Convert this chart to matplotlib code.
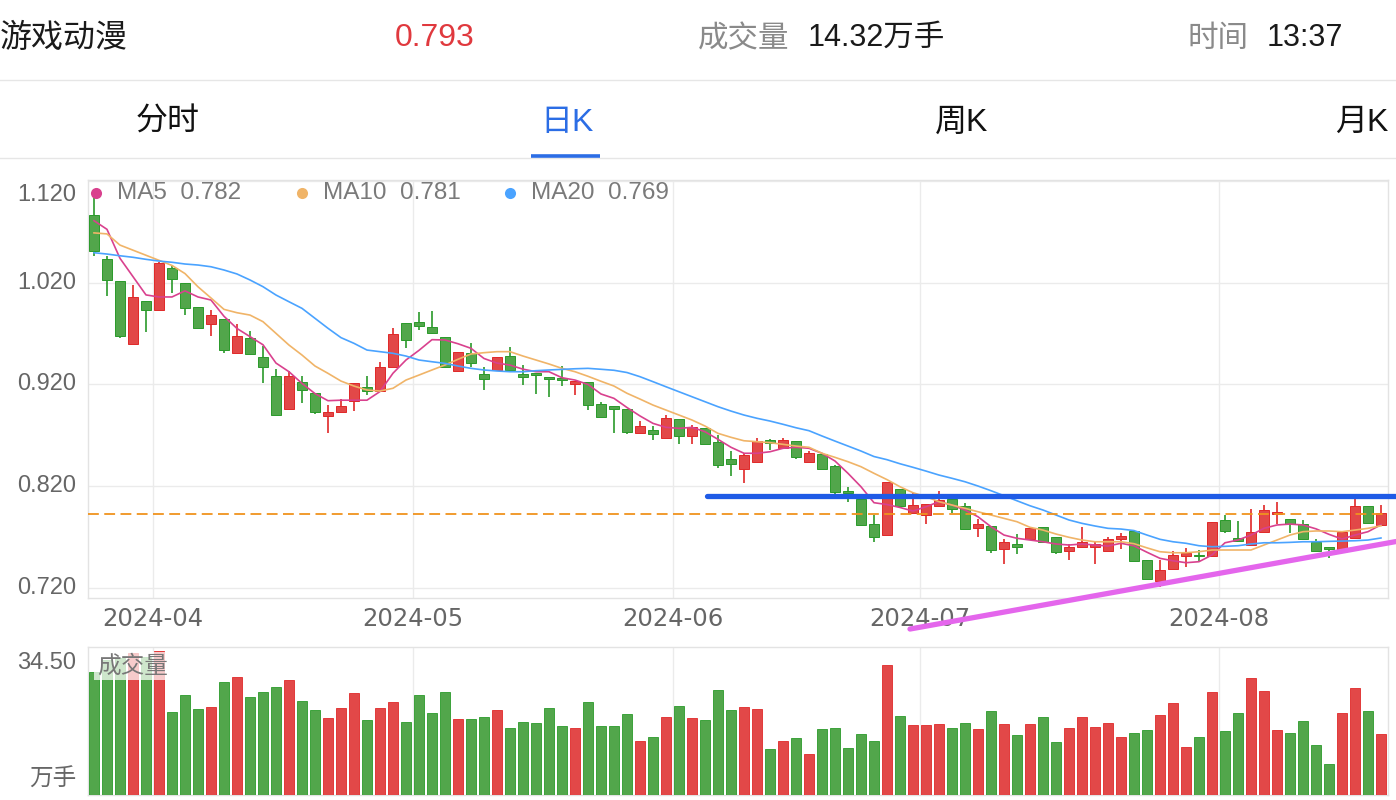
import matplotlib
matplotlib.use('Agg')
import numpy as np
import matplotlib.pyplot as plt
from matplotlib.transforms import blended_transform_factory

plt.rcParams['font.family'] = ['Liberation Sans', 'Noto Sans CJK SC']

# 日K数据 (2024-03-25 ~ 2024-08-19)
open_ = [1.087, 1.043, 1.022, 0.960, 1.002, 0.993, 1.034, 1.020, 0.996, 0.979,
         0.984, 0.951, 0.966, 0.947, 0.928, 0.896, 0.922, 0.912, 0.889, 0.893,
         0.904, 0.917, 0.914, 0.937, 0.980, 0.981, 0.976, 0.967, 0.933, 0.951,
         0.930, 0.934, 0.948, 0.930, 0.931, 0.927, 0.926, 0.920, 0.922, 0.901,
         0.899, 0.896, 0.872, 0.875, 0.867, 0.886, 0.869, 0.877, 0.863, 0.847,
         0.837, 0.844, 0.865, 0.857, 0.864, 0.844, 0.852, 0.840, 0.815, 0.807,
         0.783, 0.772, 0.817, 0.794, 0.792, 0.800, 0.807, 0.800, 0.779, 0.781,
         0.758, 0.763, 0.768, 0.780, 0.770, 0.756, 0.760, 0.760, 0.756, 0.768,
         0.776, 0.747, 0.727, 0.739, 0.751, 0.752, 0.751, 0.787, 0.769, 0.762,
         0.775, 0.793, 0.788, 0.783, 0.765, 0.760, 0.758, 0.769, 0.800, 0.782]
high = [1.108, 1.046, 1.022, 1.018, 1.002, 1.040, 1.037, 1.020, 0.996, 0.993,
        0.984, 0.979, 0.973, 0.958, 0.935, 0.933, 0.928, 0.912, 0.900, 0.906,
        0.921, 0.928, 0.942, 0.975, 0.980, 0.991, 0.992, 0.967, 0.952, 0.961,
        0.937, 0.947, 0.957, 0.939, 0.931, 0.927, 0.938, 0.923, 0.922, 0.903,
        0.899, 0.896, 0.884, 0.879, 0.890, 0.886, 0.880, 0.877, 0.870, 0.855,
        0.853, 0.867, 0.866, 0.867, 0.864, 0.855, 0.853, 0.841, 0.819, 0.807,
        0.792, 0.824, 0.817, 0.813, 0.802, 0.815, 0.807, 0.803, 0.788, 0.781,
        0.768, 0.773, 0.779, 0.780, 0.770, 0.763, 0.780, 0.765, 0.770, 0.774,
        0.776, 0.747, 0.747, 0.756, 0.759, 0.757, 0.785, 0.792, 0.786, 0.798,
        0.801, 0.804, 0.788, 0.787, 0.768, 0.760, 0.775, 0.807, 0.800, 0.801]
low = [1.046, 1.007, 0.966, 0.960, 0.972, 0.993, 1.010, 0.988, 0.975, 0.968,
       0.951, 0.951, 0.950, 0.921, 0.890, 0.896, 0.902, 0.891, 0.872, 0.893,
       0.894, 0.910, 0.914, 0.937, 0.956, 0.974, 0.970, 0.937, 0.933, 0.937,
       0.915, 0.934, 0.934, 0.919, 0.911, 0.908, 0.918, 0.910, 0.895, 0.888,
       0.872, 0.871, 0.872, 0.865, 0.867, 0.861, 0.861, 0.861, 0.838, 0.830,
       0.823, 0.844, 0.856, 0.857, 0.847, 0.844, 0.837, 0.812, 0.804, 0.782,
       0.765, 0.772, 0.800, 0.794, 0.783, 0.800, 0.794, 0.778, 0.770, 0.754,
       0.743, 0.753, 0.767, 0.765, 0.753, 0.747, 0.759, 0.743, 0.756, 0.758,
       0.746, 0.729, 0.721, 0.739, 0.740, 0.746, 0.751, 0.774, 0.766, 0.762,
       0.775, 0.783, 0.774, 0.768, 0.756, 0.749, 0.758, 0.769, 0.784, 0.782]
close = [1.051, 1.023, 0.968, 1.006, 0.993, 1.039, 1.024, 0.995, 0.975, 0.988,
         0.954, 0.968, 0.950, 0.937, 0.890, 0.928, 0.915, 0.893, 0.893, 0.899,
         0.921, 0.914, 0.937, 0.970, 0.964, 0.977, 0.971, 0.937, 0.952, 0.941,
         0.925, 0.947, 0.934, 0.927, 0.929, 0.925, 0.924, 0.923, 0.900, 0.888,
         0.896, 0.873, 0.879, 0.871, 0.887, 0.869, 0.878, 0.861, 0.841, 0.842,
         0.851, 0.864, 0.862, 0.865, 0.849, 0.853, 0.837, 0.814, 0.813, 0.782,
         0.770, 0.824, 0.800, 0.801, 0.802, 0.806, 0.798, 0.778, 0.783, 0.757,
         0.765, 0.760, 0.779, 0.765, 0.755, 0.760, 0.765, 0.763, 0.768, 0.771,
         0.746, 0.729, 0.738, 0.752, 0.754, 0.751, 0.785, 0.776, 0.766, 0.775,
         0.797, 0.794, 0.783, 0.768, 0.756, 0.758, 0.775, 0.800, 0.784, 0.794]

ma5 = [1.081, 1.0725, 1.044, 1.026, 1.008, 1.006, 1.006, 1.012, 1.006, 1.003,
       0.987, 0.975, 0.967, 0.959, 0.941, 0.9325, 0.921, 0.911, 0.904, 0.9045,
       0.9045, 0.9045, 0.913, 0.931, 0.944, 0.9535, 0.964, 0.9637, 0.960, 0.9555,
       0.9455, 0.941, 0.939, 0.935, 0.9325, 0.9325, 0.9266, 0.9243, 0.920, 0.9106,
       0.9063, 0.8973, 0.889, 0.8817, 0.8778, 0.8768, 0.8778, 0.8735, 0.866, 0.8582,
       0.8523, 0.8523, 0.8538, 0.8572, 0.8582, 0.8572, 0.8523, 0.8447, 0.8326, 0.8194,
       0.8037, 0.8019, 0.799, 0.7955, 0.7997, 0.8047, 0.8014, 0.7965, 0.7899, 0.7801,
       0.7719, 0.7687, 0.767, 0.7653, 0.7631, 0.7621, 0.7631, 0.7621, 0.7611, 0.7638,
       0.7613, 0.755, 0.749, 0.7466, 0.7447, 0.7457, 0.7523, 0.7643, 0.767, 0.7719,
       0.7785, 0.7818, 0.7827, 0.7818, 0.778, 0.7726, 0.768, 0.7719, 0.7752, 0.782]
ma10 = [1.069, 1.068, 1.057, 1.052, 1.047, 1.042, 1.037, 1.029, 1.016, 1.005,
        0.9938, 0.9905, 0.9882, 0.9817, 0.9702, 0.9587, 0.9489, 0.9381, 0.9309, 0.9233,
        0.9184, 0.9145, 0.9135, 0.9162, 0.9243, 0.9292, 0.9342, 0.9391, 0.9447, 0.9499,
        0.9512, 0.9522, 0.9522, 0.9479, 0.944, 0.9401, 0.9358, 0.9325, 0.928, 0.9231,
        0.9184, 0.9113, 0.9056, 0.8997, 0.8948, 0.8899, 0.885, 0.8791, 0.8719, 0.868,
        0.8646, 0.8637, 0.8627, 0.8611, 0.8594, 0.8582, 0.8523, 0.8483, 0.844, 0.8391,
        0.8326, 0.8264, 0.8194, 0.8135, 0.8096, 0.8047, 0.8014, 0.7982, 0.7948, 0.7916,
        0.7883, 0.785, 0.7795, 0.7768, 0.7729, 0.7697, 0.767, 0.7653, 0.7653, 0.7653,
        0.7634, 0.7593, 0.7555, 0.7545, 0.7545, 0.7555, 0.7572, 0.7572, 0.7572, 0.7572,
        0.7621, 0.767, 0.7719, 0.7752, 0.7759, 0.7759, 0.7752, 0.7768, 0.7785, 0.781]
ma20 = [1.0495, 1.0482, 1.0465, 1.045, 1.043, 1.0413, 1.0401, 1.0384, 1.0374, 1.0357,
        1.0325, 1.0286, 1.0227, 1.0161, 1.0079, 1.0013, 0.9948, 0.985, 0.9752, 0.966,
        0.9604, 0.9538, 0.9522, 0.9506, 0.9479, 0.944, 0.9423, 0.9407, 0.9381, 0.9358,
        0.9342, 0.9332, 0.9325, 0.9325, 0.9335, 0.9342, 0.9348, 0.9354, 0.9358, 0.9349,
        0.9339, 0.9317, 0.9276, 0.9227, 0.9177, 0.9128, 0.9079, 0.903, 0.8981, 0.8938,
        0.8899, 0.8867, 0.884, 0.8808, 0.8774, 0.8745, 0.8693, 0.8643, 0.8594, 0.8545,
        0.8491, 0.846, 0.842, 0.8385, 0.8348, 0.8309, 0.8277, 0.8243, 0.8201, 0.8155,
        0.8106, 0.8056, 0.8007, 0.7965, 0.7916, 0.7867, 0.7834, 0.7808, 0.7785, 0.7778,
        0.7763, 0.7719, 0.7677, 0.7653, 0.7638, 0.7614, 0.7604, 0.7608, 0.7614, 0.7631,
        0.7643, 0.7643, 0.7647, 0.7653, 0.7653, 0.7657, 0.766, 0.7663, 0.767, 0.769]

# 成交量 (万手)
volume = [28.7, 31.5, 31.9, 33.1, 32.2, 33.6, 19.4, 23.3, 20.0, 20.4,
          26.3, 27.4, 22.8, 24.1, 25.1, 26.8, 22.0, 19.8, 18.0, 20.2,
          23.7, 17.5, 20.2, 21.6, 17.0, 23.3, 19.2, 24.1, 17.7, 17.7,
          18.1, 19.7, 15.6, 17.0, 16.9, 20.2, 16.2, 15.6, 21.6, 16.0,
          16.0, 18.8, 12.6, 13.5, 18.1, 20.8, 18.0, 17.5, 24.4, 19.7,
          20.4, 20.0, 10.8, 12.6, 13.2, 9.6, 15.4, 15.6, 11.0, 14.2,
          12.7, 30.3, 18.4, 16.3, 16.3, 16.5, 15.6, 16.7, 15.3, 19.5,
          16.6, 14.0, 16.5, 18.1, 12.4, 15.7, 18.2, 15.8, 16.7, 13.5,
          14.5, 15.1, 18.6, 21.5, 11.3, 13.6, 24.0, 14.9, 19.1, 27.3,
          24.2, 15.2, 14.4, 17.3, 11.7, 7.2, 19.0, 25.0, 19.6, 14.32]

month_labels = ['2024-04', '2024-05', '2024-06', '2024-07', '2024-08']
month_first_idx = [5, 25, 45, 64, 87]   # 每月第一个交易日
price_ticks = [0.720, 0.820, 0.920, 1.020, 1.120]
vol_max = 34.50

last_price = 0.793
resistance = 0.810          # 蓝色水平线
support_start = (62.77, 0.6795)   # 紫色趋势线
support_end = (100.15, 0.7655)

RED, RED_EDGE = '#E24848', '#E02828'
GREEN, GREEN_EDGE = '#52A64B', '#2A9A2A'
GRID = '#EBEBEB'

W, H = 1396, 800
fig = plt.figure(figsize=(W / 100, H / 100), dpi=100)


def fx(px):
    return px / W


def fy(py):
    return 1 - py / H


# 顶部信息栏
fig.text(fx(0), fy(39), '游戏动漫', fontsize=23, color='#1A1A1A', va='center')
fig.text(fx(395), fy(38), '0.793', fontsize=23, color='#E0393E', va='center')
fig.text(fx(698), fy(39), '成交量', fontsize=22, color='#8A8A8A', va='center')
fig.text(fx(808), fy(38), '14.32万手', fontsize=22, color='#1A1A1A', va='center')
fig.text(fx(1187), fy(39), '时间', fontsize=22, color='#8A8A8A', va='center')
fig.text(fx(1267), fy(38), '13:37', fontsize=22, color='#1A1A1A', va='center')
fig.add_artist(plt.Line2D([0, 1], [fy(79.5), fy(79.5)], color='#E6E6E6', lw=1))

# 标签页
tabs = ['分时', '日K', '周K', '月K']
tab_x = [168, 567, 962, 1362]
for t, tx in zip(tabs, tab_x):
    fig.text(fx(tx), fy(123), t, fontsize=23, ha='center', va='center',
             color='#2B6DE5' if t == '日K' else '#111111')
fig.add_artist(plt.Line2D([0, 1], [fy(157.5), fy(157.5)], color='#E6E6E6', lw=1))
fig.add_artist(plt.Line2D([fx(531), fx(600)], [fy(155.5), fy(155.5)],
                          color='#2B6DE5', lw=2.6, solid_capstyle='butt'))

# K线主图
ax = fig.add_axes([fx(88), fy(598), fx(1388) - fx(88), fy(180) - fy(598)])
axv = fig.add_axes([fx(88), fy(795), fx(1388) - fx(88), fy(647) - fy(795)])

x = np.arange(len(close))
o = np.array(open_)
c = np.array(close)
hi = np.array(high)
lo = np.array(low)
up = c >= o
body_col = np.where(up, RED, GREEN)
edge_col = np.where(up, RED_EDGE, GREEN_EDGE)
grid_x = [m - 0.45 for m in month_first_idx]

for a in (ax, axv):
    a.set_xlim(-0.46, 99.54)
    for s in a.spines.values():
        s.set_color('#E3E3E3')
        s.set_linewidth(1)
    a.tick_params(length=0, labelbottom=False, labelleft=False)
    a.set_xticks(grid_x)
    a.grid(True, color=GRID, lw=1)
    a.set_axisbelow(True)

ax.set_ylim(0.710, 1.121)
ax.set_yticks(price_ticks)

ax.vlines(x, lo, hi, colors=edge_col, lw=1.2, zorder=3)
ax.bar(x, np.maximum(np.abs(c - o), 0.0016), bottom=np.minimum(o, c), width=0.74,
       color=body_col, edgecolor=edge_col, linewidth=0.7, zorder=4)

ax.plot(x, ma5, color='#D9418E', lw=1.2, zorder=5)
ax.plot(x, ma10, color='#F0B468', lw=1.2, zorder=5)
ax.plot(x, ma20, color='#4AA3FF', lw=1.2, zorder=5)

ax.axhline(last_price, color='#F0931E', lw=1.3, ls=(0, (6, 3)), zorder=6)
ax.plot([47.15, 100.15], [resistance, resistance], color='#1F5BE6', lw=3.8,
        solid_capstyle='round', clip_on=False, zorder=7)
ax.plot([support_start[0], support_end[0]], [support_start[1], support_end[1]],
        color='#E466EC', lw=3.8, solid_capstyle='round', clip_on=False, zorder=7)

# 坐标标签
ty = blended_transform_factory(ax.transAxes, ax.transData)
for p in price_ticks:
    yy = p - 0.0138 if p == price_ticks[-1] else p
    ax.text(-0.0092, yy, f'{p:.3f}', transform=ty, ha='right', va='center',
            fontsize=17, color='#666666')
tx_ = blended_transform_factory(ax.transData, ax.transAxes)
for lab, gx in zip(month_labels, grid_x):
    ax.text(gx, -0.0505, lab, transform=tx_, ha='center', va='center',
            fontsize=17.5, color='#666666', family=['DejaVu Sans'])

# 均线图例
leg = [('MA5', ma5[-1], '#D9418E', 96), ('MA10', ma10[-1], '#F0B468', 302),
       ('MA20', ma20[-1], '#4AA3FF', 510)]
for name, val, colr, px in leg:
    fig.add_artist(plt.Line2D([fx(px)], [fy(193)], marker='o', markersize=8,
                              color=colr, markeredgewidth=0))
    fig.text(fx(px + 21), fy(193), f'{name}  {val:.3f}', fontsize=17.5,
             color='#7A7A7A', va='center')

# 成交量
axv.set_ylim(0, vol_max)
axv.set_yticks([])
axv.bar(x, volume, width=0.76, color=body_col, edgecolor=edge_col, linewidth=0.6, zorder=3)
axv.text(-0.0092, 0.892, f'{vol_max:.2f}', transform=axv.transAxes, ha='right',
         va='center', fontsize=17, color='#666666')
axv.text(-0.0092, 0.101, '万手', transform=axv.transAxes, ha='right',
         va='center', fontsize=17, color='#666666')
axv.text(0.0069, 0.872, '成交量', transform=axv.transAxes, ha='left', va='center',
         fontsize=17, color='#777777', zorder=6,
         bbox=dict(boxstyle='square,pad=0.12', fc='white', ec='none', alpha=0.72))

fig.savefig('out.png', dpi=100)
